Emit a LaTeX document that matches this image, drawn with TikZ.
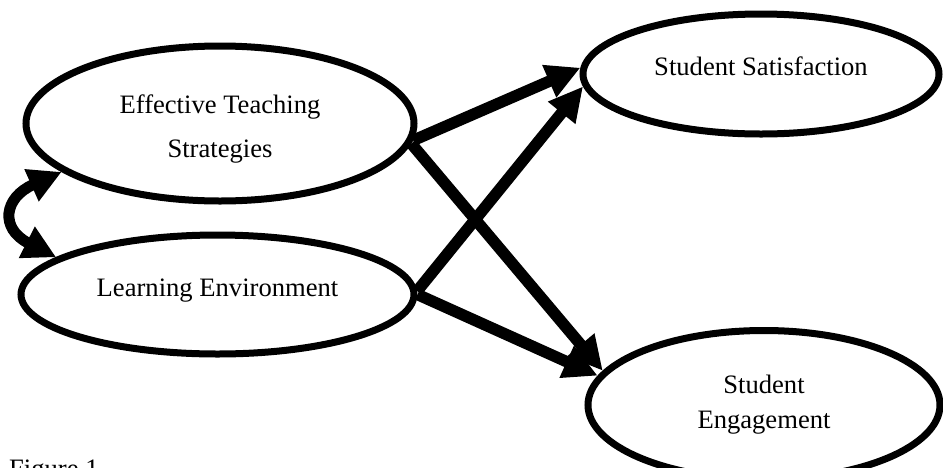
\documentclass[tikz,border=0pt]{standalone}
\usepackage{fontspec}
\setmainfont{Liberation Serif}
\usetikzlibrary{shapes.geometric,arrows.meta}
\begin{document}
\begin{tikzpicture}[x=1pt,y=-1pt,
  oval/.style={ellipse, draw, line width=7pt, inner sep=0pt},
  lbl/.style={font=\fontsize{26.6pt}{44pt}\selectfont, align=center, inner sep=0pt},
  lblb/.style={font=\fontsize{26.6pt}{35pt}\selectfont, align=center, inner sep=0pt},
  path/.style={line width=11.5pt, -{Triangle[length=34pt,width=33pt]}},
  corr/.style={line width=11pt, {Triangle[length=33pt,width=33pt]}-{Triangle[length=33pt,width=33pt]}}]
\useasboundingbox (0,0) rectangle (943,467);
\node[oval, minimum width=388pt, minimum height=155pt,
  label={[lbl, yshift=-5pt]center:{Effective Teaching\\Strategies}}] (ets) at (220,123.5) {};
\node[oval, minimum width=393pt, minimum height=119pt,
  label={[lbl, yshift=3.5pt]center:Learning Environment}] (le) at (217.5,294.5) {};
\node[oval, minimum width=356pt, minimum height=120pt,
  label={[lbl, yshift=8pt]center:Student Satisfaction}] (ss) at (761,74) {};
\node[oval, minimum width=352pt, minimum height=149pt,
  label={[lblb, yshift=0pt]center:{Student\\Engagement}}] (se) at (764,405) {};
\draw[path] (ets.-5) -- (ss.178);
\draw[path] (le.1.3) -- (ss.184);
\draw[path] (ets.-6) -- (se.168);
\draw[path] (le.0.7) -- (se.170);
\draw[corr] (ets.197) to[out=204, in=153, looseness=1.9] (le.167);
\node[lbl, anchor=north west] (fig) at (9,460) {Figure 1};
\end{tikzpicture}
\end{document}
